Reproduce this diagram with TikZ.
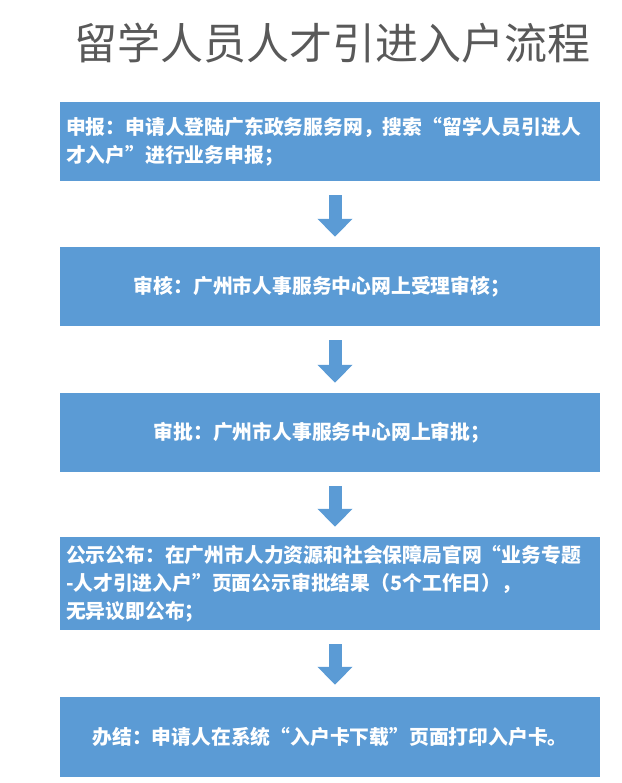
\documentclass[tikz,border=0pt]{standalone}
\usepackage{fontspec}
\setmainfont{Noto Sans CJK SC}
\usetikzlibrary{arrows.meta}
\definecolor{bx}{HTML}{5B9BD5}
\tikzset{
  box/.style={fill=bx,minimum width=540pt,inner sep=0pt,text=white,font=\fontsize{19.8}{28}\selectfont\bfseries},
  flow/.style={bx,line width=13pt,-{Triangle[width=34pt,length=18pt]}}
}
\begin{document}
\begin{tikzpicture}[x=1pt,y=1pt]
\useasboundingbox (0,0) rectangle (621,783);
\node[text=black!65,font=\fontsize{43}{45}\selectfont] (t) at (332,740) {留学人员人才引进入户流程};
\node[box,minimum height=79pt,text width=528pt,align=left] (b1) at (330,641.5) {申报：申请人登陆广东政务服务网，搜索“留学人员引进人\\才入户”进行业务申报；};
\node[box,minimum height=79pt,text width=528pt,align=center] (b2) at (330,496.5) {审核：广州市人事服务中心网上受理审核；\hspace*{16pt}};
\node[box,minimum height=79pt,text width=528pt,align=center] (b3) at (330,350.5) {审批：广州市人事服务中心网上审批；\hspace*{16pt}};
\node[box,minimum height=93pt,text width=528pt,align=left] (b4) at (330,199.5) {公示公布：在广州市人力资源和社会保障局官网“业务专题\\-人才引进入户”页面公示审批结果（5个工作日），\\无异议即公布；};
\node[box,minimum height=80pt] (b5) at (330,46) {办结：申请人在系统“入户卡下载”页面打印入户卡。};
\draw[flow] ([xshift=5pt,yshift=-14pt]b1.south) -- ([xshift=5pt,yshift=10pt]b2.north);
\draw[flow] ([xshift=5pt,yshift=-14pt]b2.south) -- ([xshift=5pt,yshift=10pt]b3.north);
\draw[flow] ([xshift=5pt,yshift=-14pt]b3.south) -- ([xshift=5pt,yshift=10pt]b4.north);
\draw[flow] ([xshift=5pt,yshift=-14pt]b4.south) -- ([xshift=5pt,yshift=12pt]b5.north);
\end{tikzpicture}
\end{document}
